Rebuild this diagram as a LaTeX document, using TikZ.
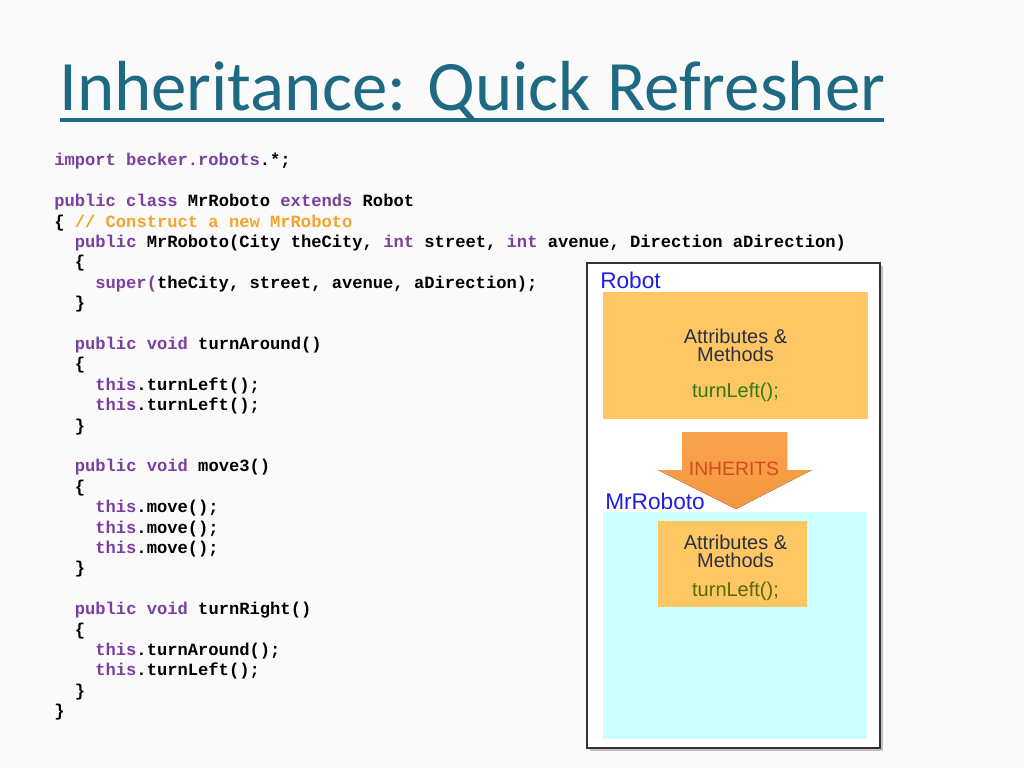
\documentclass[tikz,border=0pt]{standalone}
\usepackage{fontspec}
\usepackage{tikz}
\usetikzlibrary{shadows}
\setsansfont{Liberation Sans}
\newfontfamily\titlefont{Carlito}
\newfontfamily\codefont{Liberation Mono}
\definecolor{slidebg}{HTML}{FAFAFA}
\definecolor{titleblue}{HTML}{1D6A82}
\definecolor{kwpurple}{HTML}{7B3F9F}
\definecolor{cmtorange}{HTML}{F4A42C}
\definecolor{boxorange}{HTML}{FEC764}
\definecolor{boxcyan}{HTML}{CCFFFF}
\definecolor{lblblue}{HTML}{1F1FDD}
\definecolor{attrtext}{HTML}{2B3046}
\definecolor{methgreen}{HTML}{2F7A12}
\definecolor{metholive}{HTML}{566A06}
\definecolor{arrowtop}{HTML}{F8A24E}
\definecolor{arrowbot}{HTML}{F6963F}
\definecolor{inhred}{HTML}{CF4E1A}
\newcommand{\kwd}[1]{\textcolor{kwpurple}{#1}}
\newcommand{\cmt}[1]{\textcolor{cmtorange}{#1}}

\begin{document}
\begin{tikzpicture}[x=0.75pt,y=-0.75pt]
	\tikzstyle{code}=[anchor=base west, inner sep=0pt, font=\codefont\bfseries\fontsize{12.85pt}{15pt}\selectfont]
	\tikzstyle{classbox}=[inner sep=0pt, draw=none]
	\tikzstyle{lbl}=[anchor=base west, inner sep=0pt, text=lblblue, font=\sffamily\fontsize{17pt}{20pt}\selectfont]
	\tikzstyle{attr}=[anchor=base, inner sep=0pt, text=attrtext, font=\sffamily\fontsize{15pt}{18pt}\selectfont]

	\useasboundingbox [fill=slidebg] (0,0) rectangle (1024,768);

	% title
	\node [anchor=base west, inner sep=0pt, text=titleblue, font=\titlefont\fontsize{53.2pt}{60pt}\selectfont] (title) at (59,110) {Inheritance: Quick Refresher};
	\draw [titleblue, line width=3.5pt] (60,120) -- (884,120);

	% code
	\node [code] (c0) at (54,165.8) {\kwd{import becker.robots}.*;};
	\node [code] (c2) at (54,206.6) {\kwd{public class} MrRoboto \kwd{extends} Robot};
	\node [code] (c3) at (54,227.0) {\{ \cmt{// Construct a new MrRoboto}};
	\node [code] (c4) at (74.6,247.4) {\kwd{public} MrRoboto(City theCity, \kwd{int} street, \kwd{int} avenue, Direction aDirection)};
	\node [code] (c5) at (74.6,267.8) {\{};
	\node [code] (c6) at (95.1,288.2) {\kwd{super(}theCity, street, avenue, aDirection);};
	\node [code] (c7) at (74.6,308.6) {\}};
	\node [code] (c9) at (74.6,349.4) {\kwd{public void} turnAround()};
	\node [code] (c10) at (74.6,369.8) {\{};
	\node [code] (c11) at (95.1,390.2) {\kwd{this}.turnLeft();};
	\node [code] (c12) at (95.1,410.6) {\kwd{this}.turnLeft();};
	\node [code] (c13) at (74.6,431.0) {\}};
	\node [code] (c15) at (74.6,471.8) {\kwd{public void} move3()};
	\node [code] (c16) at (74.6,492.2) {\{};
	\node [code] (c17) at (95.1,512.6) {\kwd{this}.move();};
	\node [code] (c18) at (95.1,533.0) {\kwd{this}.move();};
	\node [code] (c19) at (95.1,553.4) {\kwd{this}.move();};
	\node [code] (c20) at (74.6,573.8) {\}};
	\node [code] (c22) at (74.6,614.6) {\kwd{public void} turnRight()};
	\node [code] (c23) at (74.6,635.0) {\{};
	\node [code] (c24) at (95.1,655.4) {\kwd{this}.turnAround();};
	\node [code] (c25) at (95.1,675.8) {\kwd{this}.turnLeft();};
	\node [code] (c26) at (74.6,696.2) {\}};
	\node [code] (c27) at (54,716.6) {\}};

	% diagram
	\node [classbox, draw=black!80, line width=1pt, fill=white, drop shadow={opacity=0.45}, minimum width=219.75pt, minimum height=363.75pt] (frame) at (733.5,505.5) {};
	\node [lbl] (robotlbl) at (600,288) {Robot};
	\node [classbox, fill=boxorange, minimum width=198.75pt, minimum height=95.25pt] (robot) at (735.5,355.5) {};
	\node [attr] (robattr1) at (735.5,343) {Attributes \&};
	\node [attr] (robattr2) at (735.5,361) {Methods};
	\node [attr, text=methgreen] (robmeth) at (735.5,397) {turnLeft();};

	\node [lbl] (mrlbl) at (605,509) {MrRoboto};
	\node [classbox, fill=boxcyan, minimum width=198pt, minimum height=170.25pt] (mrroboto) at (735,625.5) {};
	\node [classbox, fill=boxorange, minimum width=111.75pt, minimum height=64.5pt] (mrinner) at (732.5,564) {};
	\node [attr] (mrattr1) at (735.5,549) {Attributes \&};
	\node [attr] (mrattr2) at (735.5,567) {Methods};
	\node [attr, text=metholive] (mrmeth) at (735.5,596) {turnLeft();};

	\fill [top color=arrowtop, bottom color=arrowbot] (682,432) -- (787,432) -- (787,470) -- (812,470) -- (736,509) -- (658,470) -- (682,470) -- cycle;
	\node [attr, text=inhred, font=\sffamily\fontsize{14.5pt}{17pt}\selectfont] (inherits) at (734,475) {INHERITS};
\end{tikzpicture}
\end{document}
